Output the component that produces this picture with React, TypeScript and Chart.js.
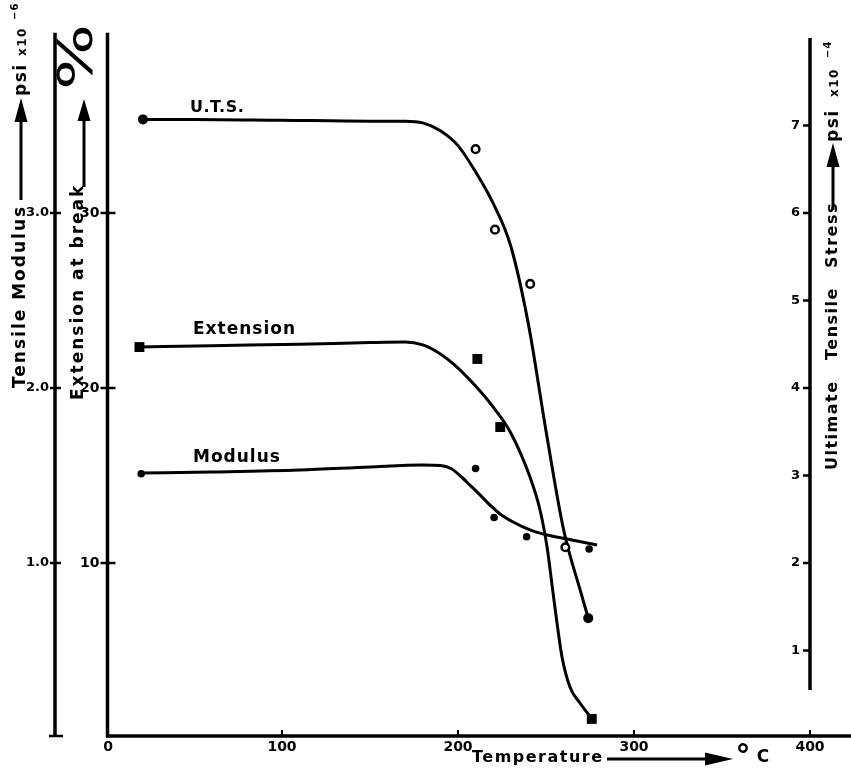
import React, { useEffect, useRef } from "react";
import { Chart, registerables } from "chart.js";

Chart.register(...registerables);

// ---------- data (temperature in °C) ----------
// fitted curves
const utsCurveTemps = [21, 50, 100, 150, 170, 180, 190, 200, 210, 220, 230, 240, 250, 260, 270, 274];
const utsCurveValues = [7.07, 7.07, 7.06, 7.05, 7.05, 7.03, 6.94, 6.77, 6.47, 6.11, 5.62, 4.73, 3.51, 2.38, 1.65, 1.37];

const extCurveTemps = [18.8, 60, 110, 150, 170, 180, 190, 200, 210, 220, 230, 240.9, 246.6, 250.6, 254, 256.8, 259.1, 263.6, 269.3, 276.1];
const extCurveValues = [22.34, 22.42, 22.5, 22.6, 22.63, 22.46, 21.94, 21.14, 20.11, 18.91, 17.43, 14.91, 13.03, 10.91, 8.29, 6.17, 4.63, 2.91, 2.0, 1.09];

const modCurveTemps = [19.9, 60, 110, 150, 180, 190, 196, 201.1, 206.8, 212.5, 218.2, 223.9, 231.3, 240.9, 250.6, 261.9, 279];
const modCurveValues = [1.514, 1.52, 1.531, 1.549, 1.56, 1.557, 1.54, 1.5, 1.445, 1.389, 1.331, 1.28, 1.234, 1.189, 1.16, 1.137, 1.103];

// measured points
const utsFilledTemps = [21, 274];
const utsFilledValues = [7.07, 1.37];
const utsOpenTemps = [210, 221, 241, 261];
const utsOpenValues = [6.73, 5.81, 5.19, 2.18];

const extTemps = [19, 211, 224, 276];
const extValues = [22.34, 21.66, 17.77, 1.09];

const modTemps = [20, 210, 220.5, 239, 274.5];
const modValues = [1.51, 1.54, 1.26, 1.15, 1.08];

// tick labels
const xTicks = [0, 100, 200, 300, 400];
const modTicks = [1.0, 2.0, 3.0];
const extTicks = [10, 20, 30];
const utsTicks = [1, 2, 3, 4, 5, 6, 7];

// ---------- helpers ----------
const FAM = "'DejaVu Sans', sans-serif";
const bold = (s: number) => `bold ${s}px ${FAM}`;

function line(ctx: CanvasRenderingContext2D, x1: number, y1: number, x2: number, y2: number, w: number) {
  ctx.beginPath();
  ctx.lineWidth = w;
  ctx.moveTo(x1, y1);
  ctx.lineTo(x2, y2);
  ctx.stroke();
}

function text(ctx: CanvasRenderingContext2D, t: string, x: number, y: number, font: string, align: CanvasTextAlign, spacing = 0) {
  ctx.save();
  ctx.font = font;
  (ctx as any).letterSpacing = `${spacing}px`;
  ctx.textAlign = align;
  ctx.textBaseline = "middle";
  ctx.fillText(t, x, y);
  ctx.restore();
}

function vText(ctx: CanvasRenderingContext2D, t: string, cx: number, yBottom: number, font: string, spacing = 0, stretch = 1) {
  ctx.save();
  ctx.translate(cx, yBottom);
  ctx.rotate(-Math.PI / 2);
  ctx.scale(stretch, 1);
  ctx.font = font;
  (ctx as any).letterSpacing = `${spacing}px`;
  ctx.textAlign = "left";
  ctx.textBaseline = "middle";
  ctx.fillText(t, 0, 0);
  ctx.restore();
}

function arrow(ctx: CanvasRenderingContext2D, x1: number, y1: number, x2: number, y2: number, headLen: number, headW: number, lw: number) {
  const a = Math.atan2(y2 - y1, x2 - x1);
  const bx = x2 - headLen * Math.cos(a);
  const by = y2 - headLen * Math.sin(a);
  line(ctx, x1, y1, bx, by, lw);
  ctx.beginPath();
  ctx.moveTo(x2, y2);
  ctx.lineTo(bx + (headW / 2) * Math.sin(a), by - (headW / 2) * Math.cos(a));
  ctx.lineTo(bx - (headW / 2) * Math.sin(a), by + (headW / 2) * Math.cos(a));
  ctx.closePath();
  ctx.fill();
}

const paperAxes = {
  id: "paperAxes",
  afterDraw(chart: any) {
    const ctx: CanvasRenderingContext2D = chart.ctx;
    const xs = chart.scales.x;
    const yE = chart.scales.yExt;
    const yM = chart.scales.yMod;
    const yU = chart.scales.yUts;
    const axisY = yE.getPixelForValue(0) - 2;
    const x0 = xs.getPixelForValue(0);
    const xR = xs.getPixelForValue(400);
    ctx.save();
    ctx.strokeStyle = "#000";
    ctx.fillStyle = "#000";
    ctx.lineCap = "butt";

    // x axis
    line(ctx, x0, axisY, chart.width, axisY, 3.5);
    xTicks.forEach((v) => {
      const px = xs.getPixelForValue(v);
      if (v > 0) line(ctx, px, axisY, px, axisY - 6, 2);
      text(ctx, String(v), px + (v === 0 ? 2 : 0), axisY + 11, bold(14), "center");
    });

    // extension axis (inner left)
    const xE = x0 + 1.5;
    line(ctx, xE, axisY + 1.5, xE, yE.getPixelForValue(40.3), 3.5);
    extTicks.forEach((v) => {
      const py = yE.getPixelForValue(v);
      line(ctx, xE - 7, py, xE + 8, py, 2.5);
      text(ctx, String(v), xE - 8, py, bold(14), "right");
    });

    // modulus axis (outer left)
    const xM = 55;
    line(ctx, xM, axisY + 1, xM, yM.getPixelForValue(4.03), 3.5);
    line(ctx, xM - 6, axisY, xM + 8, axisY, 2.5);
    modTicks.forEach((v) => {
      const py = yM.getPixelForValue(v);
      line(ctx, xM - 5, py, xM + 6, py, 2.5);
      text(ctx, v.toFixed(1), xM - 6, py, bold(13), "right");
    });

    // UTS axis (right)
    line(ctx, xR, yU.getPixelForValue(0.55), xR, yU.getPixelForValue(8.0), 3.5);
    utsTicks.forEach((v) => {
      const py = yU.getPixelForValue(v);
      line(ctx, xR - 7, py, xR, py, 2.5);
      text(ctx, String(v), xR - 10, py, bold(13), "right");
    });

    // left outer title
    vText(ctx, "Tensile Modulus", 21, 388, bold(17), 2);
    arrow(ctx, 21, 200, 21, 98, 24, 13, 3);
    vText(ctx, "psi", 22, 96, bold(17), 1.5);
    vText(ctx, "x10", 23, 56, bold(12), 1.5);
    vText(ctx, "\u22126", 15, 20, bold(10), 1);

    // left inner title
    vText(ctx, "Extension at break", 79, 400, bold(17), 2);
    arrow(ctx, 84, 187, 84, 99, 22, 13, 3);
    vText(ctx, "%", 80, 90, `48px ${FAM}`, 0, 1.45);

    // right title
    vText(ctx, "Ultimate", 833, 470, bold(16), 1.5);
    vText(ctx, "Tensile", 833, 360, bold(16), 1.5);
    vText(ctx, "Stress", 833, 268, bold(16), 1.5);
    arrow(ctx, 833, 210, 833, 143, 24, 13, 3);
    vText(ctx, "psi", 834, 142, bold(17), 1.5);
    vText(ctx, "x10", 835, 97, bold(12), 1.5);
    vText(ctx, "\u22124", 828, 58, bold(10), 1);

    // bottom title
    text(ctx, "Temperature", 472, 758, bold(16), "left", 1.5);
    arrow(ctx, 607, 759, 733, 759, 28, 13, 3);
    text(ctx, "\u00B0", 743, 758, bold(30), "center");
    text(ctx, "C", 763, 758, bold(17), "center");

    // curve labels
    text(ctx, "U.T.S.", 190, 108, bold(16), "left", 0.5);
    text(ctx, "Extension", 193, 330, bold(17), "left", 1);
    text(ctx, "Modulus", 193, 458, bold(17), "left", 1);

    ctx.restore();
  },
};

const pts = (xs: number[], ys: number[]) => xs.map((x, i) => ({ x, y: ys[i] }));

export default function App() {
  const ref = useRef<HTMLCanvasElement>(null);
  useEffect(() => {
    if (!ref.current) return;
    const curve = (data: any, yAxisID: string, label: string) => ({
      label,
      data,
      yAxisID,
      showLine: true,
      borderColor: "#000",
      borderWidth: 3,
      pointRadius: 0,
      fill: false,
      cubicInterpolationMode: "monotone" as const,
    });
    const chart = new Chart(ref.current, {
      type: "scatter",
      data: {
        datasets: [
          {
            label: "U.T.S. (open)",
            data: pts(utsOpenTemps, utsOpenValues),
            yAxisID: "yUts",
            pointStyle: "circle",
            pointRadius: 3.8,
            backgroundColor: "#fff",
            borderColor: "#000",
            borderWidth: 2.5,
          },
          {
            label: "U.T.S.",
            data: pts(utsFilledTemps, utsFilledValues),
            yAxisID: "yUts",
            pointStyle: "circle",
            pointRadius: 5,
            backgroundColor: "#000",
            borderColor: "#000",
            borderWidth: 0,
          },
          {
            label: "Extension",
            data: pts(extTemps, extValues),
            yAxisID: "yExt",
            pointStyle: "rect",
            pointRadius: 7,
            backgroundColor: "#000",
            borderColor: "#000",
            borderWidth: 0,
          },
          {
            label: "Modulus",
            data: pts(modTemps, modValues),
            yAxisID: "yMod",
            pointStyle: "circle",
            pointRadius: 3.8,
            backgroundColor: "#000",
            borderColor: "#000",
            borderWidth: 0,
          },
          curve(pts(utsCurveTemps, utsCurveValues), "yUts", "U.T.S. curve"),
          curve(pts(extCurveTemps, extCurveValues), "yExt", "Extension curve"),
          curve(pts(modCurveTemps, modCurveValues), "yMod", "Modulus curve"),
        ],
      },
      options: {
        animation: false,
        responsive: false,
        events: [],
        layout: { padding: { left: 106, right: 41, top: 38, bottom: 36 } },
        plugins: { legend: { display: false }, tooltip: { enabled: false } },
        scales: {
          x: { type: "linear", min: 0, max: 400, display: false },
          yExt: { type: "linear", position: "left", min: 0, max: 40, display: false },
          yMod: { type: "linear", position: "left", min: 0, max: 4, display: false },
          yUts: { type: "linear", position: "right", min: 0, max: 8, display: false },
        },
      },
      plugins: [paperAxes],
    });
    return () => chart.destroy();
  }, []);
  return (
    <div style={{ position: "fixed", left: 0, top: 0, width: 851, height: 774, background: "#fff" }}>
      <canvas ref={ref} width={851} height={774} style={{ display: "block", width: 851, height: 774 }} />
    </div>
  );
}
